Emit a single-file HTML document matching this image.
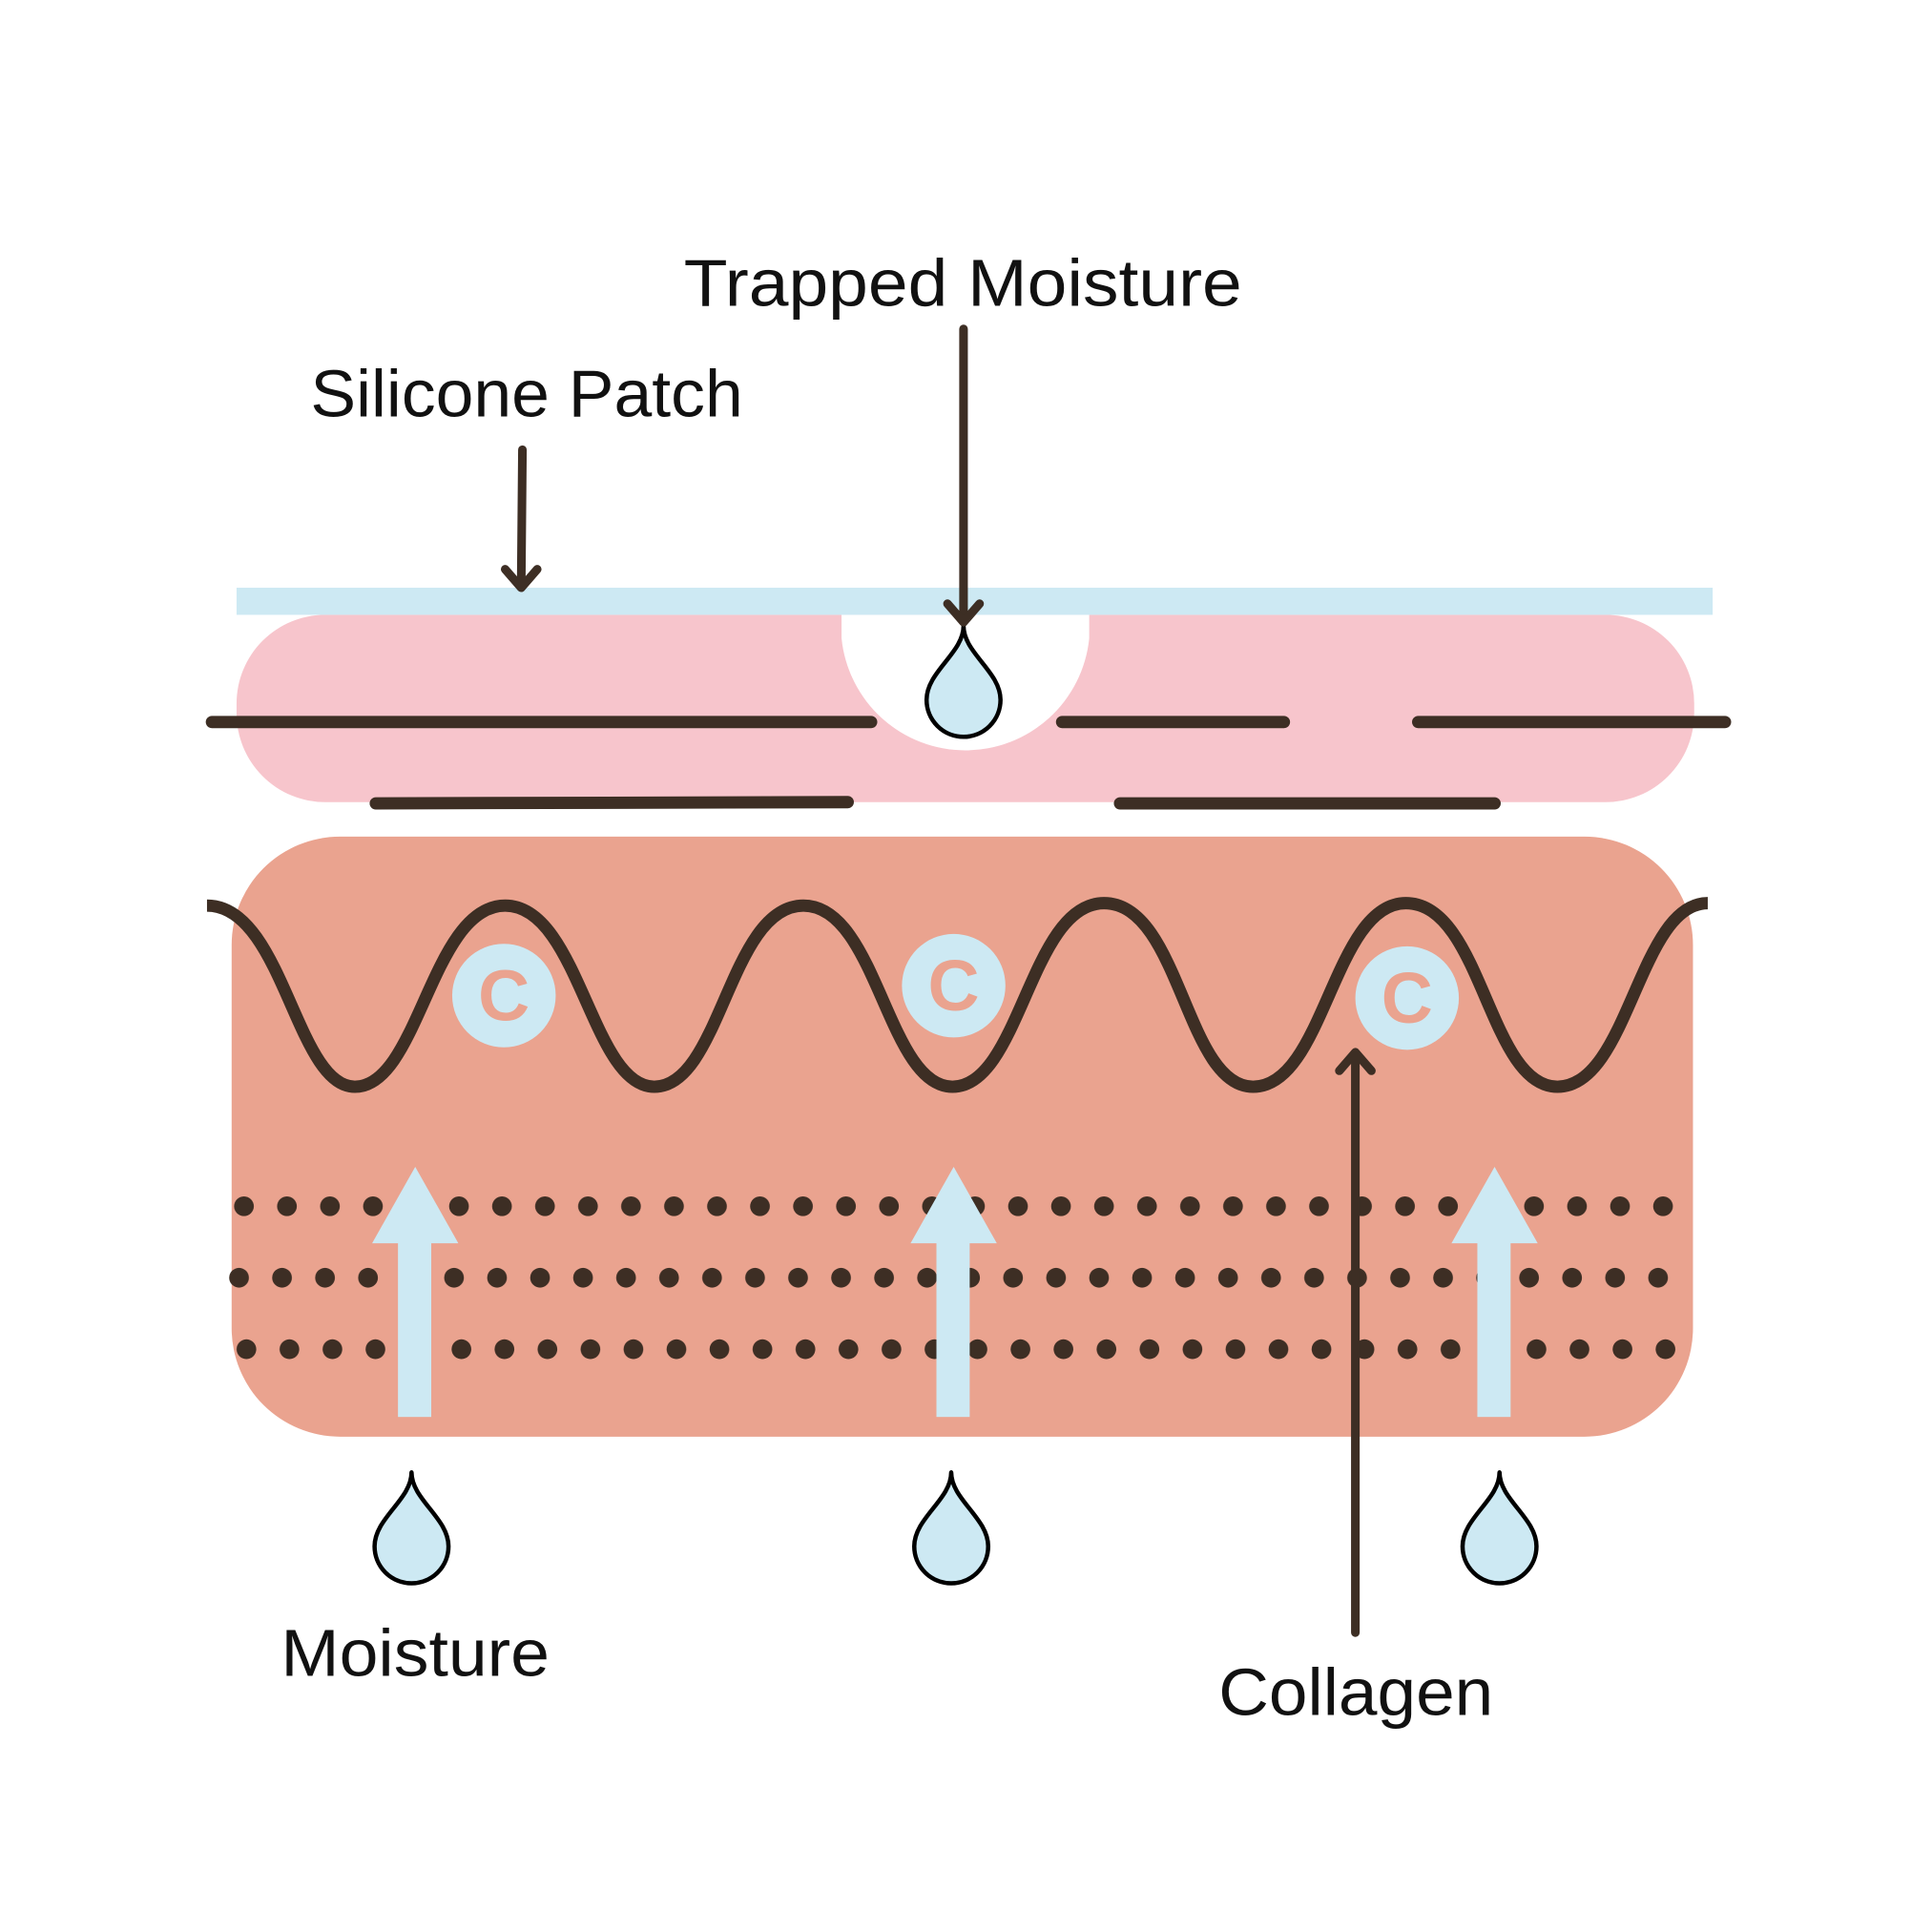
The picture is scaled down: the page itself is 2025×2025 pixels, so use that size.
<!DOCTYPE html>
<html><head><meta charset="utf-8"><style>
html,body{margin:0;padding:0;background:#fff;}
svg{display:block;}
text{font-family:"Liberation Sans",sans-serif;fill:#111;}
</style></head><body>
<svg width="2025" height="2025" viewBox="0 0 1568 1568" xmlns="http://www.w3.org/2000/svg">
<defs>
<pattern id="d1" x="181" y="0" width="34.9" height="1568" patternUnits="userSpaceOnUse"><circle cx="17" cy="979" r="8" fill="#3d2e24"/></pattern>
<pattern id="d2" x="177" y="0" width="34.9" height="1568" patternUnits="userSpaceOnUse"><circle cx="17" cy="1037" r="8" fill="#3d2e24"/></pattern>
<pattern id="d3" x="183" y="0" width="34.9" height="1568" patternUnits="userSpaceOnUse"><circle cx="17" cy="1095" r="8" fill="#3d2e24"/></pattern>
</defs>
<rect width="1568" height="1568" fill="#fff"/>
<rect x="192" y="499" width="1183" height="152" rx="72" fill="#f7c5cc"/>
<path d="M683,499 L884,499 L884,518 A101,101 0 0 1 683,518 Z" fill="#fff"/>
<rect x="192" y="477" width="1198" height="22" fill="#cde9f3"/>
<g stroke="#3d2e24" stroke-width="10" stroke-linecap="round" fill="none">
<line x1="172" y1="586" x2="707" y2="586"/>
<line x1="862" y1="586" x2="1042" y2="586"/>
<line x1="1151" y1="586" x2="1400" y2="586"/>
<line x1="305" y1="652" x2="688" y2="651"/>
<line x1="909" y1="652" x2="1213" y2="652"/>
</g>
<rect x="188" y="679" width="1186" height="487" rx="88" fill="#eaa38f"/>
<path d="M168,735 C230,735 240,882 288,882 C340,882 350,735 410,735 C470,735 480,882 531,882 C585,882 592,735 652,735 C712,735 720,882 773,882 C828,882 836,733 896,733 C958,733 962,882 1017,882 C1075,882 1082,733 1141,733 C1203,733 1208,882 1264,882 C1322,882 1330,733 1386,733" fill="none" stroke="#3d2e24" stroke-width="10"/>
<g font-weight="bold" font-size="58" text-anchor="middle">
<circle cx="409" cy="808" r="42" fill="#cde9f3"/><text x="409" y="828" style="fill:#eaa38f">C</text>
<circle cx="774" cy="800" r="42" fill="#cde9f3"/><text x="774" y="820" style="fill:#eaa38f">C</text>
<circle cx="1142" cy="810" r="42" fill="#cde9f3"/><text x="1142" y="830" style="fill:#eaa38f">C</text>
</g>
<rect x="185" y="965" width="1180" height="28" fill="url(#d1)"/>
<rect x="181" y="1023" width="1186" height="28" fill="url(#d2)"/>
<rect x="187" y="1081" width="1180" height="28" fill="url(#d3)"/>
<g fill="#cde9f3">
<rect x="323" y="1007" width="27" height="143"/><polygon points="337,947 302,1009 372,1009"/>
<rect x="760" y="1007" width="27" height="143"/><polygon points="774,947 739,1009 809,1009"/>
<rect x="1199" y="1007" width="27" height="143"/><polygon points="1213,947 1178,1009 1248,1009"/>
</g>
<g fill="#cde9f3" stroke="#000" stroke-width="3.5" stroke-linejoin="round">
<path d="M782,508 C782,530 752,545 752,568 A30,30 0 1 0 812,568 C812,545 782,530 782,508 Z"/>
<path d="M334,1195 C334,1217 304,1232 304,1255 A30,30 0 1 0 364,1255 C364,1232 334,1217 334,1195 Z"/>
<path d="M772,1195 C772,1217 742,1232 742,1255 A30,30 0 1 0 802,1255 C802,1232 772,1217 772,1195 Z"/>
<path d="M1217,1195 C1217,1217 1187,1232 1187,1255 A30,30 0 1 0 1247,1255 C1247,1232 1217,1217 1217,1195 Z"/>
</g>
<g stroke="#3d2e24" stroke-width="7" stroke-linecap="round" stroke-linejoin="round" fill="none">
<line x1="424" y1="365" x2="423" y2="476"/><polyline points="410,462 423,477 436,462"/>
<line x1="782" y1="267" x2="782" y2="504"/><polyline points="769,490 782,505 795,490"/>
<line x1="1100" y1="1325" x2="1100" y2="855"/><polyline points="1087,869 1100,854 1113,869"/>
</g>
<g font-size="54">
<text x="555" y="248" textLength="453" lengthAdjust="spacingAndGlyphs">Trapped Moisture</text>
<text x="252" y="338" textLength="351" lengthAdjust="spacingAndGlyphs">Silicone Patch</text>
<text x="228" y="1360" textLength="218" lengthAdjust="spacingAndGlyphs">Moisture</text>
<text x="989" y="1392" textLength="223" lengthAdjust="spacingAndGlyphs">Collagen</text>
</g>
</svg>
</body></html>
